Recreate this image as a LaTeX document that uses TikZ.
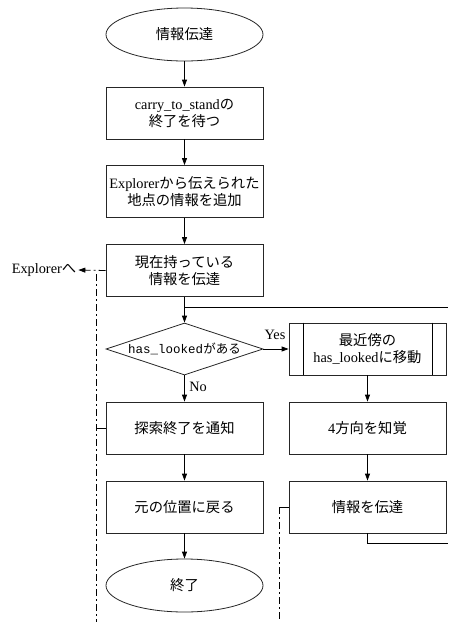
\documentclass[tikz,border=0pt]{standalone}
\usepackage{fontspec}
\setmainfont{Liberation Serif}
\setmonofont{Liberation Mono}
\newfontfamily\jp{Noto Sans CJK JP}
\usetikzlibrary{shapes.geometric,arrows.meta}
\newcommand\J[1]{{\jp #1}}
\begin{document}
\begin{tikzpicture}[x=1pt,y=-1pt,
  every node/.style={font=\fontsize{14.3}{17}\selectfont},
  proc/.style={draw=black!85, line width=0.8pt, minimum width=157pt, minimum height=52pt, inner sep=0pt, align=center},
  term/.style={draw=black!85, ellipse, line width=0.8pt, minimum width=157pt, minimum height=53pt, inner sep=0pt},
  dec/.style={draw=black!85, diamond, line width=0.8pt, minimum width=157pt, minimum height=52pt, inner sep=0pt},
  flow/.style={line width=0.8pt, -{Triangle[length=7pt,width=5pt]}},
  link/.style={line width=0.8pt},
  comm/.style={line width=0.8pt, dash pattern=on 7pt off 3pt on 2pt off 3pt},
  lbl/.style={inner sep=0pt}]
\useasboundingbox (0,0) rectangle (448,622);
\node[term] (start) at (184.5,34.5) {\J{情報伝達}};
\node[proc] (wait) at (184.5,113) {carry\_to\_stand\J{の}\\\J{終了を待つ}};
\node[proc] (add) at (184.5,191.5) {Explorer\J{から伝えられた}\\\J{地点の情報を追加}};
\node[proc] (send) at (184.5,270.5) {\J{現在持っている}\\\J{情報を伝達}};
\node[dec] (dec) at (184.5,349) {};
\node[lbl, font=\fontsize{12.5}{15}\selectfont] (dectext) at (dec) {\texttt{has\_looked}\J{がある}};
\node[proc] (move) at (367.5,349) {\J{最近傍の}\\has\_looked\J{に移動}};
\draw[link] ([xshift=15pt]move.north west) -- ([xshift=15pt]move.south west);
\draw[link] ([xshift=-14pt]move.north east) -- ([xshift=-14pt]move.south east);
\node[proc] (notify) at (184.5,428) {\J{探索終了を通知}};
\node[proc] (look) at (367.5,428) {4\J{方向を知覚}};
\node[proc] (back) at (184.5,507) {\J{元の位置に戻る}};
\node[proc] (send2) at (367.5,507) {\J{情報を伝達}};
\node[term] (end) at (184.5,585.5) {\J{終了}};
\node[lbl] (explorer) at (44,270) {Explorer\J{へ}};
\node[lbl] (yes) at (275,335) {Yes};
\node[lbl] (no) at (198,387) {No};
% flow
\draw[flow] (start.south) -- (wait.north);
\draw[flow] (wait.south) -- (add.north);
\draw[flow] (add.south) -- (send.north);
\draw[flow] (send.south) -- (dec.north);
\draw[flow] (dec.east) -- (move.west);
\draw[flow] (dec.south) -- (notify.north);
\draw[flow] (notify.south) -- (back.north);
\draw[flow] (back.south) -- (end.north);
\draw[flow] (move.south) -- (look.north);
\draw[flow] (look.south) -- (send2.north);
% loop lines
\coordinate (j) at (184.5,307);
\coordinate (rtop) at (448,307);
\draw[link] (j) -- (rtop);
\coordinate (s2b) at (367.5,543);
\coordinate (rbotr) at (448,543);
\draw[link] (send2.south) -- (s2b) -- (rbotr);
% communication lines
\draw[comm, -{Triangle[length=7pt,width=5pt]}] (send.west) -- ([xshift=2pt]explorer.east);
\coordinate (lc) at (96,428);
\coordinate (ltop) at (96,274);
\coordinate (lbot) at (96,622);
\draw[link] (notify.west) -- (lc);
\draw[comm] (ltop) -- (lbot);
\coordinate (rc) at (279,507);
\coordinate (rb) at (279,622);
\draw[link] (send2.west) -- (rc);
\draw[comm] (rc) -- (rb);
\end{tikzpicture}
\end{document}
